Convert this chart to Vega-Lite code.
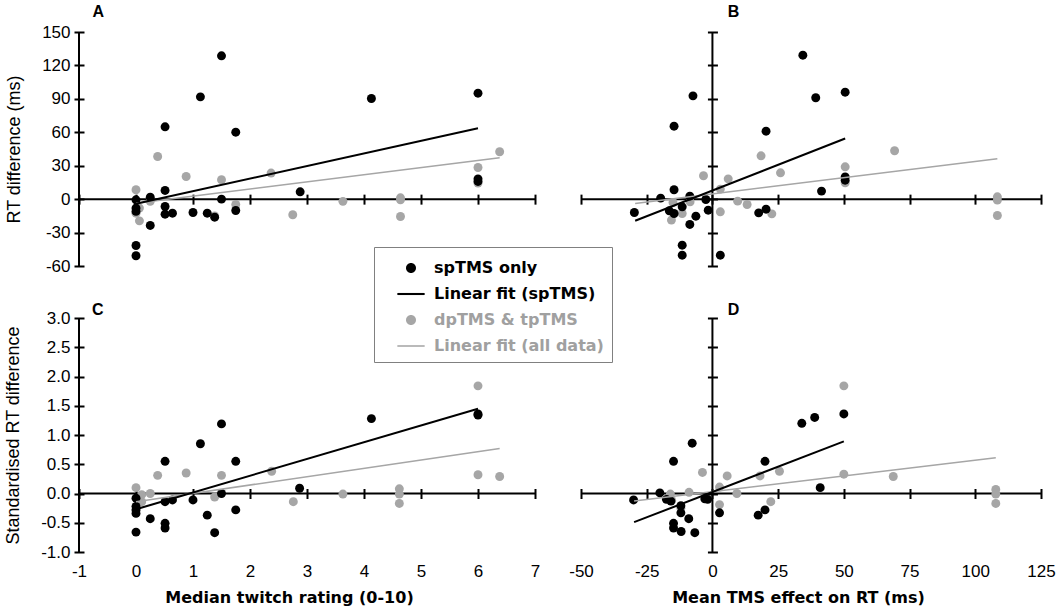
{
  "$schema": "https://vega.github.io/schema/vega-lite/v6.json",
  "background": "white",
  "padding": {"left": 4, "top": 3, "right": 5, "bottom": 5},
  "columns": 2,
  "spacing": {"row": 27, "column": 28},
  "datasets": {
    "pts": [
      {"p": "A", "s": "dp", "x": 0, "y": 8.4}, {"p": "A", "s": "dp", "x": 0.06, "y": -8}, {"p": "A", "s": "dp", "x": 0, "y": -12.6},
      {"p": "A", "s": "dp", "x": 0.06, "y": -19.5}, {"p": "A", "s": "dp", "x": 0.25, "y": -2}, {"p": "A", "s": "dp", "x": 0.38, "y": 38.3},
      {"p": "A", "s": "dp", "x": 0.88, "y": 20.3}, {"p": "A", "s": "dp", "x": 1.38, "y": -15}, {"p": "A", "s": "dp", "x": 1.5, "y": 17.4},
      {"p": "A", "s": "dp", "x": 1.75, "y": -4.8}, {"p": "A", "s": "dp", "x": 2.37, "y": 23.4}, {"p": "A", "s": "dp", "x": 2.75, "y": -14},
      {"p": "A", "s": "dp", "x": 3.63, "y": -2}, {"p": "A", "s": "dp", "x": 4.64, "y": 1.2}, {"p": "A", "s": "dp", "x": 4.64, "y": -0.6},
      {"p": "A", "s": "dp", "x": 4.64, "y": -15.6}, {"p": "A", "s": "dp", "x": 6, "y": 28.4}, {"p": "A", "s": "dp", "x": 6, "y": 14.4},
      {"p": "A", "s": "dp", "x": 6.38, "y": 42.5},
      {"p": "A", "s": "sp", "x": 0, "y": -0.6}, {"p": "A", "s": "sp", "x": 0, "y": -8}, {"p": "A", "s": "sp", "x": 0, "y": -11},
      {"p": "A", "s": "sp", "x": 0, "y": -41.6}, {"p": "A", "s": "sp", "x": 0, "y": -50.8}, {"p": "A", "s": "sp", "x": 0.25, "y": 1.8},
      {"p": "A", "s": "sp", "x": 0.25, "y": -23.6}, {"p": "A", "s": "sp", "x": 0.51, "y": 64.9}, {"p": "A", "s": "sp", "x": 0.51, "y": 7.8},
      {"p": "A", "s": "sp", "x": 0.51, "y": -6.6}, {"p": "A", "s": "sp", "x": 0.51, "y": -13.5}, {"p": "A", "s": "sp", "x": 0.64, "y": -12.6},
      {"p": "A", "s": "sp", "x": 1.0, "y": -12}, {"p": "A", "s": "sp", "x": 1.13, "y": 91.8}, {"p": "A", "s": "sp", "x": 1.25, "y": -12.6},
      {"p": "A", "s": "sp", "x": 1.38, "y": -16.2}, {"p": "A", "s": "sp", "x": 1.5, "y": 128.6}, {"p": "A", "s": "sp", "x": 1.5, "y": 0},
      {"p": "A", "s": "sp", "x": 1.75, "y": 60.1}, {"p": "A", "s": "sp", "x": 1.75, "y": -10.2}, {"p": "A", "s": "sp", "x": 2.88, "y": 6.6},
      {"p": "A", "s": "sp", "x": 4.13, "y": 90.3}, {"p": "A", "s": "sp", "x": 6, "y": 95.1}, {"p": "A", "s": "sp", "x": 6, "y": 18.2},
      {"p": "A", "s": "sp", "x": 6, "y": 15.9},

      {"p": "B", "s": "dp", "x": -15.6, "y": -18.8}, {"p": "B", "s": "dp", "x": -15, "y": -3}, {"p": "B", "s": "dp", "x": -11.5, "y": -12.9},
      {"p": "B", "s": "dp", "x": -8.5, "y": -2.4}, {"p": "B", "s": "dp", "x": -3.4, "y": 21}, {"p": "B", "s": "dp", "x": 3, "y": 9},
      {"p": "B", "s": "dp", "x": 3, "y": -11.4}, {"p": "B", "s": "dp", "x": 6, "y": 18.2}, {"p": "B", "s": "dp", "x": 9.6, "y": -1.8},
      {"p": "B", "s": "dp", "x": 13.2, "y": -4.8}, {"p": "B", "s": "dp", "x": 18.5, "y": 38.9}, {"p": "B", "s": "dp", "x": 22.6, "y": -13.2},
      {"p": "B", "s": "dp", "x": 25.9, "y": 23.6}, {"p": "B", "s": "dp", "x": 50.5, "y": 29}, {"p": "B", "s": "dp", "x": 50.5, "y": 14.7},
      {"p": "B", "s": "dp", "x": 69.3, "y": 43.4}, {"p": "B", "s": "dp", "x": 108.4, "y": 2.1}, {"p": "B", "s": "dp", "x": 108.4, "y": -0.9},
      {"p": "B", "s": "dp", "x": 108.4, "y": -14.7},
      {"p": "B", "s": "sp", "x": -29.7, "y": -12}, {"p": "B", "s": "sp", "x": -19.7, "y": 0.9}, {"p": "B", "s": "sp", "x": -14.6, "y": 8.4},
      {"p": "B", "s": "sp", "x": -14.6, "y": 65.5}, {"p": "B", "s": "sp", "x": -16.4, "y": -10.5}, {"p": "B", "s": "sp", "x": -14.6, "y": -12.9},
      {"p": "B", "s": "sp", "x": -11.5, "y": -6.9}, {"p": "B", "s": "sp", "x": -11.5, "y": -41.3}, {"p": "B", "s": "sp", "x": -11.5, "y": -50.3},
      {"p": "B", "s": "sp", "x": -8.6, "y": 2.7}, {"p": "B", "s": "sp", "x": -8.6, "y": -22.7}, {"p": "B", "s": "sp", "x": -7.4, "y": 92.7},
      {"p": "B", "s": "sp", "x": -6.3, "y": -15.3}, {"p": "B", "s": "sp", "x": -2.5, "y": -0.3}, {"p": "B", "s": "sp", "x": -1.6, "y": -9.9},
      {"p": "B", "s": "sp", "x": 3, "y": -50.3}, {"p": "B", "s": "sp", "x": 17.6, "y": -12.3}, {"p": "B", "s": "sp", "x": 20.4, "y": -9},
      {"p": "B", "s": "sp", "x": 20.4, "y": 61}, {"p": "B", "s": "sp", "x": 34.4, "y": 129.2}, {"p": "B", "s": "sp", "x": 39.3, "y": 91},
      {"p": "B", "s": "sp", "x": 41.5, "y": 7.2}, {"p": "B", "s": "sp", "x": 50.5, "y": 96}, {"p": "B", "s": "sp", "x": 50.5, "y": 20},
      {"p": "B", "s": "sp", "x": 50.5, "y": 17},

      {"p": "C", "s": "dp", "x": 0, "y": 0.1}, {"p": "C", "s": "dp", "x": 0.1, "y": -0.02}, {"p": "C", "s": "dp", "x": 0.1, "y": -0.14},
      {"p": "C", "s": "dp", "x": 0.25, "y": 0}, {"p": "C", "s": "dp", "x": 0.38, "y": 0.31}, {"p": "C", "s": "dp", "x": 0.88, "y": 0.35},
      {"p": "C", "s": "dp", "x": 1.38, "y": -0.06}, {"p": "C", "s": "dp", "x": 1.5, "y": 0.31}, {"p": "C", "s": "dp", "x": 2.38, "y": 0.38},
      {"p": "C", "s": "dp", "x": 2.76, "y": -0.14}, {"p": "C", "s": "dp", "x": 3.63, "y": -0.01}, {"p": "C", "s": "dp", "x": 4.62, "y": 0.08},
      {"p": "C", "s": "dp", "x": 4.62, "y": -0.01}, {"p": "C", "s": "dp", "x": 4.62, "y": -0.17}, {"p": "C", "s": "dp", "x": 6, "y": 1.84},
      {"p": "C", "s": "dp", "x": 6, "y": 0.32}, {"p": "C", "s": "dp", "x": 6.38, "y": 0.29},
      {"p": "C", "s": "sp", "x": 0, "y": -0.08}, {"p": "C", "s": "sp", "x": 0, "y": -0.22}, {"p": "C", "s": "sp", "x": 0, "y": -0.28},
      {"p": "C", "s": "sp", "x": 0, "y": -0.34}, {"p": "C", "s": "sp", "x": 0, "y": -0.66}, {"p": "C", "s": "sp", "x": 0.25, "y": -0.43},
      {"p": "C", "s": "sp", "x": 0.51, "y": 0.55}, {"p": "C", "s": "sp", "x": 0.51, "y": -0.14}, {"p": "C", "s": "sp", "x": 0.51, "y": -0.51},
      {"p": "C", "s": "sp", "x": 0.51, "y": -0.59}, {"p": "C", "s": "sp", "x": 0.64, "y": -0.11}, {"p": "C", "s": "sp", "x": 1.0, "y": -0.11},
      {"p": "C", "s": "sp", "x": 1.13, "y": 0.85}, {"p": "C", "s": "sp", "x": 1.25, "y": -0.37}, {"p": "C", "s": "sp", "x": 1.38, "y": -0.67},
      {"p": "C", "s": "sp", "x": 1.5, "y": 1.19}, {"p": "C", "s": "sp", "x": 1.5, "y": 0}, {"p": "C", "s": "sp", "x": 1.75, "y": 0.55},
      {"p": "C", "s": "sp", "x": 1.75, "y": -0.28}, {"p": "C", "s": "sp", "x": 2.87, "y": 0.09}, {"p": "C", "s": "sp", "x": 4.13, "y": 1.28},
      {"p": "C", "s": "sp", "x": 6, "y": 1.36}, {"p": "C", "s": "sp", "x": 6, "y": 1.34},

      {"p": "D", "s": "dp", "x": -16, "y": -0.01}, {"p": "D", "s": "dp", "x": -15.5, "y": -0.12}, {"p": "D", "s": "dp", "x": -8.9, "y": 0.02},
      {"p": "D", "s": "dp", "x": -12, "y": -0.25}, {"p": "D", "s": "dp", "x": -3.8, "y": 0.36}, {"p": "D", "s": "dp", "x": 2.7, "y": 0.11},
      {"p": "D", "s": "dp", "x": 2.7, "y": -0.19}, {"p": "D", "s": "dp", "x": 5.6, "y": 0.3}, {"p": "D", "s": "dp", "x": 9.3, "y": 0},
      {"p": "D", "s": "dp", "x": 18.1, "y": 0.3}, {"p": "D", "s": "dp", "x": 22.2, "y": -0.14}, {"p": "D", "s": "dp", "x": 25.5, "y": 0.38},
      {"p": "D", "s": "dp", "x": 50, "y": 1.84}, {"p": "D", "s": "dp", "x": 50, "y": 0.33}, {"p": "D", "s": "dp", "x": 68.8, "y": 0.29},
      {"p": "D", "s": "dp", "x": 107.8, "y": 0.07}, {"p": "D", "s": "dp", "x": 107.8, "y": -0.01}, {"p": "D", "s": "dp", "x": 107.8, "y": -0.17},
      {"p": "D", "s": "sp", "x": -30, "y": -0.11}, {"p": "D", "s": "sp", "x": -20, "y": 0.01}, {"p": "D", "s": "sp", "x": -17.5, "y": -0.1},
      {"p": "D", "s": "sp", "x": -15.8, "y": -0.13}, {"p": "D", "s": "sp", "x": -14.8, "y": 0.55}, {"p": "D", "s": "sp", "x": -12, "y": -0.21},
      {"p": "D", "s": "sp", "x": -12, "y": -0.33}, {"p": "D", "s": "sp", "x": -14.8, "y": -0.51}, {"p": "D", "s": "sp", "x": -14.8, "y": -0.59},
      {"p": "D", "s": "sp", "x": -11.9, "y": -0.65}, {"p": "D", "s": "sp", "x": -9, "y": -0.43}, {"p": "D", "s": "sp", "x": -7.7, "y": 0.86},
      {"p": "D", "s": "sp", "x": -6.7, "y": -0.67}, {"p": "D", "s": "sp", "x": -2.9, "y": -0.09}, {"p": "D", "s": "sp", "x": -1.8, "y": -0.1},
      {"p": "D", "s": "sp", "x": 2.7, "y": -0.33}, {"p": "D", "s": "sp", "x": 17.4, "y": -0.37}, {"p": "D", "s": "sp", "x": 20, "y": -0.28},
      {"p": "D", "s": "sp", "x": 20, "y": 0.55}, {"p": "D", "s": "sp", "x": 34, "y": 1.2}, {"p": "D", "s": "sp", "x": 38.9, "y": 1.3},
      {"p": "D", "s": "sp", "x": 41, "y": 0.1}, {"p": "D", "s": "sp", "x": 50, "y": 1.36}
    ],
    "fits": [
      {"p": "A", "s": "fs", "x": 0, "y": -4.2}, {"p": "A", "s": "fs", "x": 6, "y": 63.7},
      {"p": "A", "s": "fa", "x": 0, "y": -3.6}, {"p": "A", "s": "fa", "x": 6.38, "y": 37.1},
      {"p": "B", "s": "fs", "x": -29.4, "y": -19.4}, {"p": "B", "s": "fs", "x": 50.5, "y": 54.4},
      {"p": "B", "s": "fa", "x": -29.4, "y": -3.9}, {"p": "B", "s": "fa", "x": 108.4, "y": 36.2},
      {"p": "C", "s": "fs", "x": 0, "y": -0.27}, {"p": "C", "s": "fs", "x": 6, "y": 1.45},
      {"p": "C", "s": "fa", "x": 0, "y": -0.14}, {"p": "C", "s": "fa", "x": 6.38, "y": 0.77},
      {"p": "D", "s": "fs", "x": -29.8, "y": -0.49}, {"p": "D", "s": "fs", "x": 50, "y": 0.89},
      {"p": "D", "s": "fa", "x": -29.8, "y": -0.13}, {"p": "D", "s": "fa", "x": 107.8, "y": 0.61}
    ]
  },
  "concat": [
    {
      "width": 456,
      "height": 234,
      "layer": [
        {"data": {"values": [{}]}, "mark": {"type": "rule", "strokeWidth": 2, "color": "black"},
          "encoding": {
            "x": {"datum": -1, "type": "quantitative", "title": null, "scale": {"domain": [-1, 7], "nice": false, "zero": false},
              "axis": {"values": [-1, 0, 1, 2, 3, 4, 5, 6, 7], "offset": -71.86, "labels": false}}}},
        {"data": {"values": [{}]}, "mark": {"type": "rule", "strokeWidth": 2, "color": "black"},
          "encoding": {
            "y": {"datum": 0, "type": "quantitative", "title": "RT difference (ms)", "scale": {"domain": [-60, 150], "nice": false, "zero": false},
              "axis": {"values": [-60, -30, 0, 30, 60, 90, 120, 150], "offset": -5, "labelExpr": "'' + datum.value"}}}},
        {"data": {"name": "pts"}, "transform": [{"filter": "datum.p == 'A'"}],
          "mark": {"type": "point", "filled": true, "size": 80, "opacity": 1},
          "encoding": {
            "x": {"field": "x", "type": "quantitative", "title": null, "scale": {"domain": [-1, 7], "nice": false, "zero": false},
              "axis": {"values": [-1, 0, 1, 2, 3, 4, 5, 6, 7], "offset": -71.86, "labels": false}},
            "y": {"field": "y", "type": "quantitative", "title": "RT difference (ms)", "scale": {"domain": [-60, 150], "nice": false, "zero": false},
              "axis": {"values": [-60, -30, 0, 30, 60, 90, 120, 150], "offset": -5, "labelExpr": "'' + datum.value"}},
            "color": {"field": "s", "type": "nominal",
              "scale": {"domain": ["sp", "fs", "dp", "fa"], "range": ["black", "black", "#a6a6a6", "#a6a6a6"]},
              "legend": {
                "orient": "none", "legendX": 295, "legendY": 215, "title": null,
                "labelExpr": "datum.value == 'sp' ? 'spTMS only' : datum.value == 'fs' ? 'Linear fit (spTMS)' : datum.value == 'dp' ? 'dpTMS & tpTMS' : 'Linear fit (all data)'",
                "labelColor": {"expr": "datum.value == 'dp' || datum.value == 'fa' ? '#a0a0a0' : 'black'"},
                "symbolType": {"expr": "datum.value == 'sp' || datum.value == 'dp' ? 'M-0.385,0A0.385,0.385,0,1,0,0.385,0A0.385,0.385,0,1,0,-0.385,0Z' : datum.value == 'fs' ? 'M-1.05,-0.08H1.05V0.08H-1.05Z' : 'M-1.05,-0.06H1.05V0.06H-1.05Z'"},
                "symbolSize": 676, "symbolStrokeWidth": 0, "symbolOpacity": 1,
                "labelFont": "DejaVu Sans", "labelFontSize": 16, "labelFontWeight": "bold", "labelLimit": 400,
                "labelOffset": 10, "rowPadding": 5, "padding": 8, "symbolOffset": 16,
                "strokeColor": "#808080", "fillColor": "white"
              }}}},
        {"data": {"name": "fits"}, "transform": [{"filter": "datum.p == 'A' && datum.s == 'fa'"}],
          "mark": {"type": "line", "strokeWidth": 1.5},
          "encoding": {
            "x": {"field": "x", "type": "quantitative", "title": null, "scale": {"domain": [-1, 7], "nice": false, "zero": false},
              "axis": {"values": [-1, 0, 1, 2, 3, 4, 5, 6, 7], "offset": -71.86, "labels": false}},
            "y": {"field": "y", "type": "quantitative", "title": "RT difference (ms)", "scale": {"domain": [-60, 150], "nice": false, "zero": false},
              "axis": {"values": [-60, -30, 0, 30, 60, 90, 120, 150], "offset": -5, "labelExpr": "'' + datum.value"}},
            "color": {"field": "s", "type": "nominal", "legend": null}}},
        {"data": {"name": "fits"}, "transform": [{"filter": "datum.p == 'A' && datum.s == 'fs'"}],
          "mark": {"type": "line", "strokeWidth": 2},
          "encoding": {
            "x": {"field": "x", "type": "quantitative", "title": null, "scale": {"domain": [-1, 7], "nice": false, "zero": false},
              "axis": {"values": [-1, 0, 1, 2, 3, 4, 5, 6, 7], "offset": -71.86, "labels": false}},
            "y": {"field": "y", "type": "quantitative", "title": "RT difference (ms)", "scale": {"domain": [-60, 150], "nice": false, "zero": false},
              "axis": {"values": [-60, -30, 0, 30, 60, 90, 120, 150], "offset": -5, "labelExpr": "'' + datum.value"}},
            "color": {"field": "s", "type": "nominal", "legend": null}}},
        {"data": {"values": [{}]}, "mark": {"type": "text", "text": "A", "font": "Liberation Sans", "fontSize": 16, "fontWeight": "bold", "color": "black", "align": "center", "baseline": "middle"},
          "encoding": {
            "x": {"datum": -0.66, "type": "quantitative", "title": null, "scale": {"domain": [-1, 7], "nice": false, "zero": false},
              "axis": {"values": [-1, 0, 1, 2, 3, 4, 5, 6, 7], "offset": -71.86, "labels": false}},
            "y": {"datum": 168, "type": "quantitative", "title": "RT difference (ms)", "scale": {"domain": [-60, 150], "nice": false, "zero": false},
              "axis": {"values": [-60, -30, 0, 30, 60, 90, 120, 150], "offset": -5, "labelExpr": "'' + datum.value"}}}}
      ]
    },
    {
      "width": 460,
      "height": 234,
      "layer": [
        {"data": {"values": [{}]}, "mark": {"type": "rule", "strokeWidth": 2, "color": "black"},
          "encoding": {
            "x": {"datum": 0, "type": "quantitative", "title": null, "scale": {"domain": [-50, 125], "nice": false, "zero": false},
              "axis": {"values": [-50, -25, 0, 25, 50, 75, 100, 125], "offset": -71.86, "labels": false}}}},
        {"data": {"values": [{}]}, "mark": {"type": "rule", "strokeWidth": 2, "color": "black"},
          "encoding": {
            "y": {"datum": 0, "type": "quantitative", "title": null, "scale": {"domain": [-60, 150], "nice": false, "zero": false},
              "axis": {"values": [-60, -30, 0, 30, 60, 90, 120, 150], "offset": -136.43, "labels": false}}}},
        {"data": {"name": "pts"}, "transform": [{"filter": "datum.p == 'B'"}],
          "mark": {"type": "point", "filled": true, "size": 80, "opacity": 1},
          "encoding": {
            "x": {"field": "x", "type": "quantitative", "title": null, "scale": {"domain": [-50, 125], "nice": false, "zero": false},
              "axis": {"values": [-50, -25, 0, 25, 50, 75, 100, 125], "offset": -71.86, "labels": false}},
            "y": {"field": "y", "type": "quantitative", "title": null, "scale": {"domain": [-60, 150], "nice": false, "zero": false},
              "axis": {"values": [-60, -30, 0, 30, 60, 90, 120, 150], "offset": -136.43, "labels": false}},
            "color": {"field": "s", "type": "nominal", "legend": null}}},
        {"data": {"name": "fits"}, "transform": [{"filter": "datum.p == 'B' && datum.s == 'fa'"}],
          "mark": {"type": "line", "strokeWidth": 1.5},
          "encoding": {
            "x": {"field": "x", "type": "quantitative", "title": null, "scale": {"domain": [-50, 125], "nice": false, "zero": false},
              "axis": {"values": [-50, -25, 0, 25, 50, 75, 100, 125], "offset": -71.86, "labels": false}},
            "y": {"field": "y", "type": "quantitative", "title": null, "scale": {"domain": [-60, 150], "nice": false, "zero": false},
              "axis": {"values": [-60, -30, 0, 30, 60, 90, 120, 150], "offset": -136.43, "labels": false}},
            "color": {"field": "s", "type": "nominal", "legend": null}}},
        {"data": {"name": "fits"}, "transform": [{"filter": "datum.p == 'B' && datum.s == 'fs'"}],
          "mark": {"type": "line", "strokeWidth": 2},
          "encoding": {
            "x": {"field": "x", "type": "quantitative", "title": null, "scale": {"domain": [-50, 125], "nice": false, "zero": false},
              "axis": {"values": [-50, -25, 0, 25, 50, 75, 100, 125], "offset": -71.86, "labels": false}},
            "y": {"field": "y", "type": "quantitative", "title": null, "scale": {"domain": [-60, 150], "nice": false, "zero": false},
              "axis": {"values": [-60, -30, 0, 30, 60, 90, 120, 150], "offset": -136.43, "labels": false}},
            "color": {"field": "s", "type": "nominal", "legend": null}}},
        {"data": {"values": [{}]}, "mark": {"type": "text", "text": "B", "font": "Liberation Sans", "fontSize": 16, "fontWeight": "bold", "color": "black", "align": "center", "baseline": "middle"},
          "encoding": {
            "x": {"datum": 8, "type": "quantitative", "title": null, "scale": {"domain": [-50, 125], "nice": false, "zero": false},
              "axis": {"values": [-50, -25, 0, 25, 50, 75, 100, 125], "offset": -71.86, "labels": false}},
            "y": {"datum": 168, "type": "quantitative", "title": null, "scale": {"domain": [-60, 150], "nice": false, "zero": false},
              "axis": {"values": [-60, -30, 0, 30, 60, 90, 120, 150], "offset": -136.43, "labels": false}}}}
      ]
    },
    {
      "width": 456,
      "height": 234,
      "layer": [
        {"data": {"values": [{}]}, "mark": {"type": "rule", "strokeWidth": 2, "color": "black"},
          "encoding": {
            "x": {"datum": -1, "type": "quantitative", "title": "Median twitch rating (0-10)", "scale": {"domain": [-1, 7], "nice": false, "zero": false},
              "axis": {"values": [-1, 0, 1, 2, 3, 4, 5, 6, 7], "offset": -63.5, "labelPadding": 65, "labelExpr": "'' + datum.value",
                "titleFont": "DejaVu Sans", "titleFontWeight": "bold", "titleFontSize": 16, "titlePadding": 10, "titleX": 210}}}},
        {"data": {"values": [{}]}, "mark": {"type": "rule", "strokeWidth": 2, "color": "black"},
          "encoding": {
            "y": {"datum": 0, "type": "quantitative", "title": "Standardised RT difference", "scale": {"domain": [-1, 3], "nice": false, "zero": false},
              "axis": {"values": [-1, -0.5, 0, 0.5, 1, 1.5, 2, 2.5, 3], "offset": -5, "labelExpr": "(datum.value < 0 ? '-' : '') + format(abs(datum.value), '.1f')"}}}},
        {"data": {"name": "pts"}, "transform": [{"filter": "datum.p == 'C'"}],
          "mark": {"type": "point", "filled": true, "size": 80, "opacity": 1},
          "encoding": {
            "x": {"field": "x", "type": "quantitative", "title": "Median twitch rating (0-10)", "scale": {"domain": [-1, 7], "nice": false, "zero": false},
              "axis": {"values": [-1, 0, 1, 2, 3, 4, 5, 6, 7], "offset": -63.5, "labelPadding": 65, "labelExpr": "'' + datum.value",
                "titleFont": "DejaVu Sans", "titleFontWeight": "bold", "titleFontSize": 16, "titlePadding": 10, "titleX": 210}},
            "y": {"field": "y", "type": "quantitative", "title": "Standardised RT difference", "scale": {"domain": [-1, 3], "nice": false, "zero": false},
              "axis": {"values": [-1, -0.5, 0, 0.5, 1, 1.5, 2, 2.5, 3], "offset": -5, "labelExpr": "(datum.value < 0 ? '-' : '') + format(abs(datum.value), '.1f')"}},
            "color": {"field": "s", "type": "nominal", "legend": null}}},
        {"data": {"name": "fits"}, "transform": [{"filter": "datum.p == 'C' && datum.s == 'fa'"}],
          "mark": {"type": "line", "strokeWidth": 1.5},
          "encoding": {
            "x": {"field": "x", "type": "quantitative", "title": "Median twitch rating (0-10)", "scale": {"domain": [-1, 7], "nice": false, "zero": false},
              "axis": {"values": [-1, 0, 1, 2, 3, 4, 5, 6, 7], "offset": -63.5, "labelPadding": 65, "labelExpr": "'' + datum.value",
                "titleFont": "DejaVu Sans", "titleFontWeight": "bold", "titleFontSize": 16, "titlePadding": 10, "titleX": 210}},
            "y": {"field": "y", "type": "quantitative", "title": "Standardised RT difference", "scale": {"domain": [-1, 3], "nice": false, "zero": false},
              "axis": {"values": [-1, -0.5, 0, 0.5, 1, 1.5, 2, 2.5, 3], "offset": -5, "labelExpr": "(datum.value < 0 ? '-' : '') + format(abs(datum.value), '.1f')"}},
            "color": {"field": "s", "type": "nominal", "legend": null}}},
        {"data": {"name": "fits"}, "transform": [{"filter": "datum.p == 'C' && datum.s == 'fs'"}],
          "mark": {"type": "line", "strokeWidth": 2},
          "encoding": {
            "x": {"field": "x", "type": "quantitative", "title": "Median twitch rating (0-10)", "scale": {"domain": [-1, 7], "nice": false, "zero": false},
              "axis": {"values": [-1, 0, 1, 2, 3, 4, 5, 6, 7], "offset": -63.5, "labelPadding": 65, "labelExpr": "'' + datum.value",
                "titleFont": "DejaVu Sans", "titleFontWeight": "bold", "titleFontSize": 16, "titlePadding": 10, "titleX": 210}},
            "y": {"field": "y", "type": "quantitative", "title": "Standardised RT difference", "scale": {"domain": [-1, 3], "nice": false, "zero": false},
              "axis": {"values": [-1, -0.5, 0, 0.5, 1, 1.5, 2, 2.5, 3], "offset": -5, "labelExpr": "(datum.value < 0 ? '-' : '') + format(abs(datum.value), '.1f')"}},
            "color": {"field": "s", "type": "nominal", "legend": null}}},
        {"data": {"values": [{}]}, "mark": {"type": "text", "text": "C", "font": "Liberation Sans", "fontSize": 16, "fontWeight": "bold", "color": "black", "align": "center", "baseline": "middle"},
          "encoding": {
            "x": {"datum": -0.67, "type": "quantitative", "title": "Median twitch rating (0-10)", "scale": {"domain": [-1, 7], "nice": false, "zero": false},
              "axis": {"values": [-1, 0, 1, 2, 3, 4, 5, 6, 7], "offset": -63.5, "labelPadding": 65, "labelExpr": "'' + datum.value",
                "titleFont": "DejaVu Sans", "titleFontWeight": "bold", "titleFontSize": 16, "titlePadding": 10, "titleX": 210}},
            "y": {"datum": 3.14, "type": "quantitative", "title": "Standardised RT difference", "scale": {"domain": [-1, 3], "nice": false, "zero": false},
              "axis": {"values": [-1, -0.5, 0, 0.5, 1, 1.5, 2, 2.5, 3], "offset": -5, "labelExpr": "(datum.value < 0 ? '-' : '') + format(abs(datum.value), '.1f')"}}}}
      ]
    },
    {
      "width": 460,
      "height": 234,
      "layer": [
        {"data": {"values": [{}]}, "mark": {"type": "rule", "strokeWidth": 2, "color": "black"},
          "encoding": {
            "x": {"datum": 0, "type": "quantitative", "title": "Mean TMS effect on RT (ms)", "scale": {"domain": [-50, 125], "nice": false, "zero": false},
              "axis": {"values": [-50, -25, 0, 25, 50, 75, 100, 125], "offset": -63.5, "labelPadding": 65, "labelExpr": "'' + datum.value",
                "titleFont": "DejaVu Sans", "titleFontWeight": "bold", "titleFontSize": 16, "titlePadding": 10, "titleX": 217}}}},
        {"data": {"values": [{}]}, "mark": {"type": "rule", "strokeWidth": 2, "color": "black"},
          "encoding": {
            "y": {"datum": 0, "type": "quantitative", "title": null, "scale": {"domain": [-1, 3], "nice": false, "zero": false},
              "axis": {"values": [-1, -0.5, 0, 0.5, 1, 1.5, 2, 2.5, 3], "offset": -136.43, "labels": false}}}},
        {"data": {"name": "pts"}, "transform": [{"filter": "datum.p == 'D'"}],
          "mark": {"type": "point", "filled": true, "size": 80, "opacity": 1},
          "encoding": {
            "x": {"field": "x", "type": "quantitative", "title": "Mean TMS effect on RT (ms)", "scale": {"domain": [-50, 125], "nice": false, "zero": false},
              "axis": {"values": [-50, -25, 0, 25, 50, 75, 100, 125], "offset": -63.5, "labelPadding": 65, "labelExpr": "'' + datum.value",
                "titleFont": "DejaVu Sans", "titleFontWeight": "bold", "titleFontSize": 16, "titlePadding": 10, "titleX": 217}},
            "y": {"field": "y", "type": "quantitative", "title": null, "scale": {"domain": [-1, 3], "nice": false, "zero": false},
              "axis": {"values": [-1, -0.5, 0, 0.5, 1, 1.5, 2, 2.5, 3], "offset": -136.43, "labels": false}},
            "color": {"field": "s", "type": "nominal", "legend": null}}},
        {"data": {"name": "fits"}, "transform": [{"filter": "datum.p == 'D' && datum.s == 'fa'"}],
          "mark": {"type": "line", "strokeWidth": 1.5},
          "encoding": {
            "x": {"field": "x", "type": "quantitative", "title": "Mean TMS effect on RT (ms)", "scale": {"domain": [-50, 125], "nice": false, "zero": false},
              "axis": {"values": [-50, -25, 0, 25, 50, 75, 100, 125], "offset": -63.5, "labelPadding": 65, "labelExpr": "'' + datum.value",
                "titleFont": "DejaVu Sans", "titleFontWeight": "bold", "titleFontSize": 16, "titlePadding": 10, "titleX": 217}},
            "y": {"field": "y", "type": "quantitative", "title": null, "scale": {"domain": [-1, 3], "nice": false, "zero": false},
              "axis": {"values": [-1, -0.5, 0, 0.5, 1, 1.5, 2, 2.5, 3], "offset": -136.43, "labels": false}},
            "color": {"field": "s", "type": "nominal", "legend": null}}},
        {"data": {"name": "fits"}, "transform": [{"filter": "datum.p == 'D' && datum.s == 'fs'"}],
          "mark": {"type": "line", "strokeWidth": 2},
          "encoding": {
            "x": {"field": "x", "type": "quantitative", "title": "Mean TMS effect on RT (ms)", "scale": {"domain": [-50, 125], "nice": false, "zero": false},
              "axis": {"values": [-50, -25, 0, 25, 50, 75, 100, 125], "offset": -63.5, "labelPadding": 65, "labelExpr": "'' + datum.value",
                "titleFont": "DejaVu Sans", "titleFontWeight": "bold", "titleFontSize": 16, "titlePadding": 10, "titleX": 217}},
            "y": {"field": "y", "type": "quantitative", "title": null, "scale": {"domain": [-1, 3], "nice": false, "zero": false},
              "axis": {"values": [-1, -0.5, 0, 0.5, 1, 1.5, 2, 2.5, 3], "offset": -136.43, "labels": false}},
            "color": {"field": "s", "type": "nominal", "legend": null}}},
        {"data": {"values": [{}]}, "mark": {"type": "text", "text": "D", "font": "Liberation Sans", "fontSize": 16, "fontWeight": "bold", "color": "black", "align": "center", "baseline": "middle"},
          "encoding": {
            "x": {"datum": 8, "type": "quantitative", "title": "Mean TMS effect on RT (ms)", "scale": {"domain": [-50, 125], "nice": false, "zero": false},
              "axis": {"values": [-50, -25, 0, 25, 50, 75, 100, 125], "offset": -63.5, "labelPadding": 65, "labelExpr": "'' + datum.value",
                "titleFont": "DejaVu Sans", "titleFontWeight": "bold", "titleFontSize": 16, "titlePadding": 10, "titleX": 217}},
            "y": {"datum": 3.14, "type": "quantitative", "title": null, "scale": {"domain": [-1, 3], "nice": false, "zero": false},
              "axis": {"values": [-1, -0.5, 0, 0.5, 1, 1.5, 2, 2.5, 3], "offset": -136.43, "labels": false}}}}
      ]
    }
  ],
  "config": {
    "view": {"stroke": null},
    "axis": {
      "domain": false, "grid": false,
      "tickColor": "black", "tickWidth": 2, "tickSize": 10,
      "labelFont": "Liberation Sans", "labelFontSize": 17, "labelColor": "black", "labelPadding": 4,
      "labelFlush": false, "labelOverlap": false,
      "titleFont": "Liberation Sans", "titleFontSize": 18, "titleFontWeight": "normal", "titleColor": "black", "titlePadding": 18
    }
  }
}
